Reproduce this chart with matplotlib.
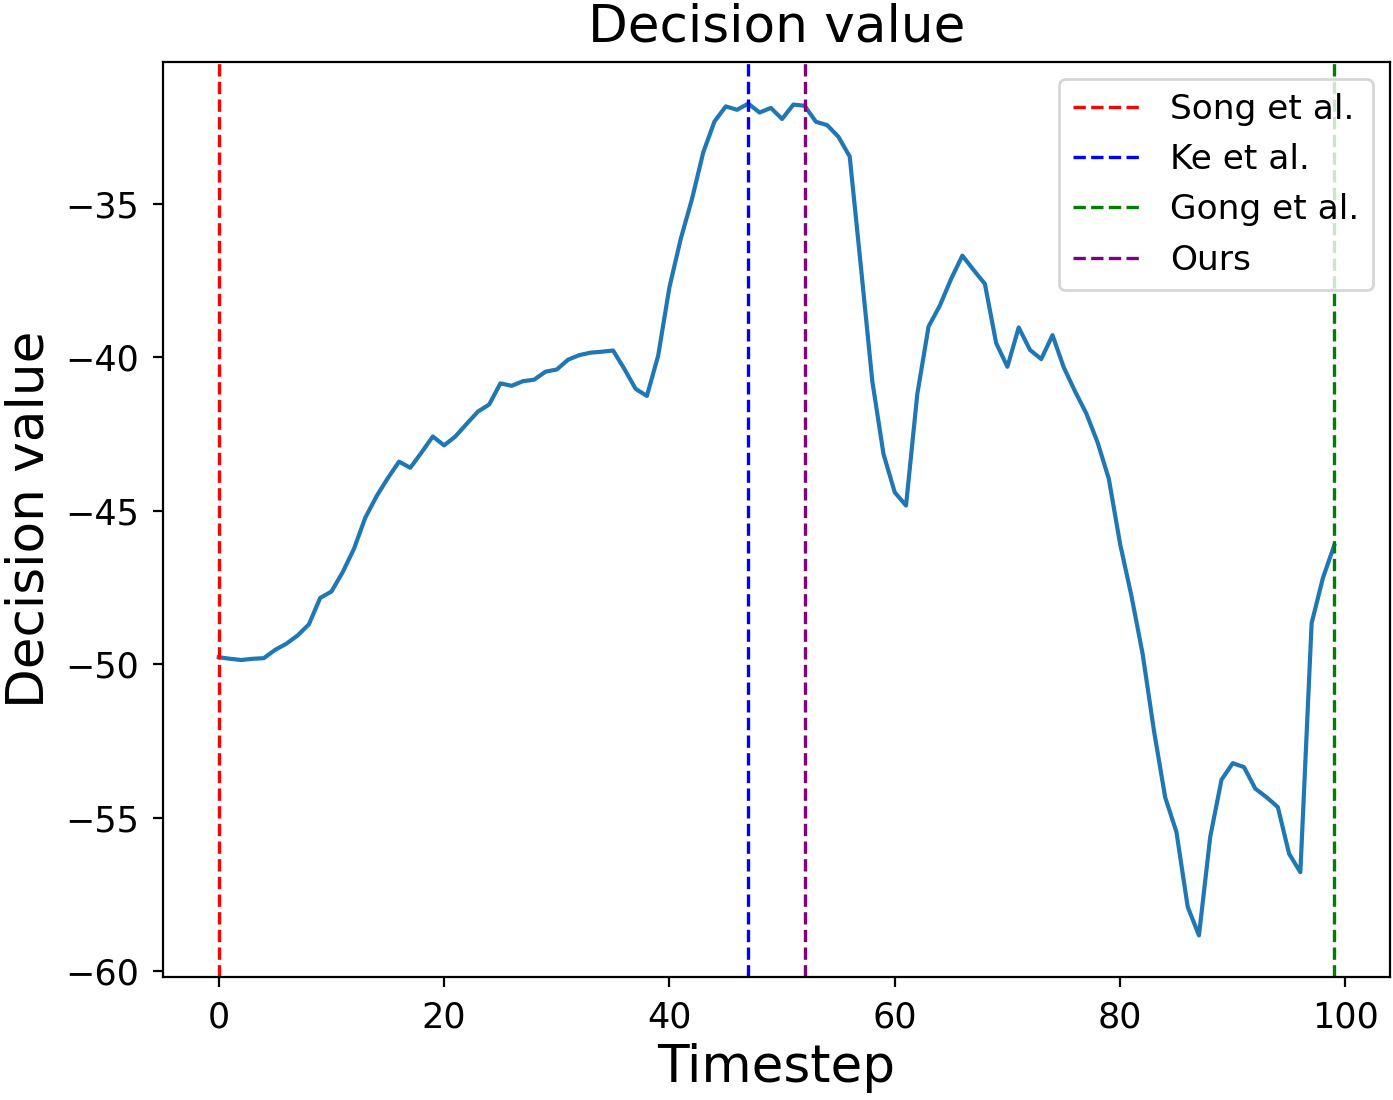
import matplotlib
matplotlib.use("Agg")
import matplotlib.pyplot as plt
import numpy as np

timesteps = list(range(100))
decision_values = [
    -49.77, -49.82, -49.86, -49.82, -49.80, -49.53, -49.33, -49.06, -48.70, -47.84,
    -47.63, -47.00, -46.24, -45.23, -44.53, -43.94, -43.40, -43.60, -43.10, -42.58,
    -42.87, -42.58, -42.17, -41.77, -41.54, -40.85, -40.93, -40.78, -40.73, -40.47,
    -40.40, -40.08, -39.93, -39.85, -39.82, -39.78, -40.38, -41.03, -41.26, -39.95,
    -37.72, -36.15, -34.85, -33.33, -32.32, -31.83, -31.94, -31.74, -32.03, -31.88,
    -32.24, -31.77, -31.81, -32.33, -32.44, -32.82, -33.46, -37.07, -40.76, -43.15,
    -44.40, -44.83, -41.20, -39.00, -38.32, -37.45, -36.69, -37.16, -37.61, -39.54,
    -40.31, -39.03, -39.76, -40.06, -39.28, -40.33, -41.11, -41.83, -42.77, -43.96,
    -46.08, -47.76, -49.66, -52.15, -54.33, -55.46, -57.90, -58.83, -55.62, -53.76,
    -53.22, -53.35, -54.05, -54.33, -54.65, -56.17, -56.77, -48.66, -47.19, -46.13,
]

method_labels = ["Song et al.", "Ke et al.", "Gong et al.", "Ours"]
method_steps = [0, 47, 99, 52]
method_colors = ["red", "blue", "green", "purple"]

fig = plt.figure(figsize=(6.965, 5.5), dpi=200)
ax = fig.add_axes([0.117, 0.1118, 0.8808, 0.8318])

ax.plot(timesteps, decision_values, color="#1f77b4", linewidth=1.5)
for lab, st, col in zip(method_labels, method_steps, method_colors):
    ax.axvline(st, color=col, linestyle="--", linewidth=1.2, label=lab)

ax.set_title("Decision value", fontsize=18.6, pad=7.5)
ax.set_xlabel("Timestep", fontsize=18.6, labelpad=3)
ax.set_ylabel("Decision value", fontsize=18.6, labelpad=4)
ax.tick_params(labelsize=12.6, pad=5)
ax.legend(loc="upper right", fontsize=12.4)

fig.savefig("out.png", dpi=200)
